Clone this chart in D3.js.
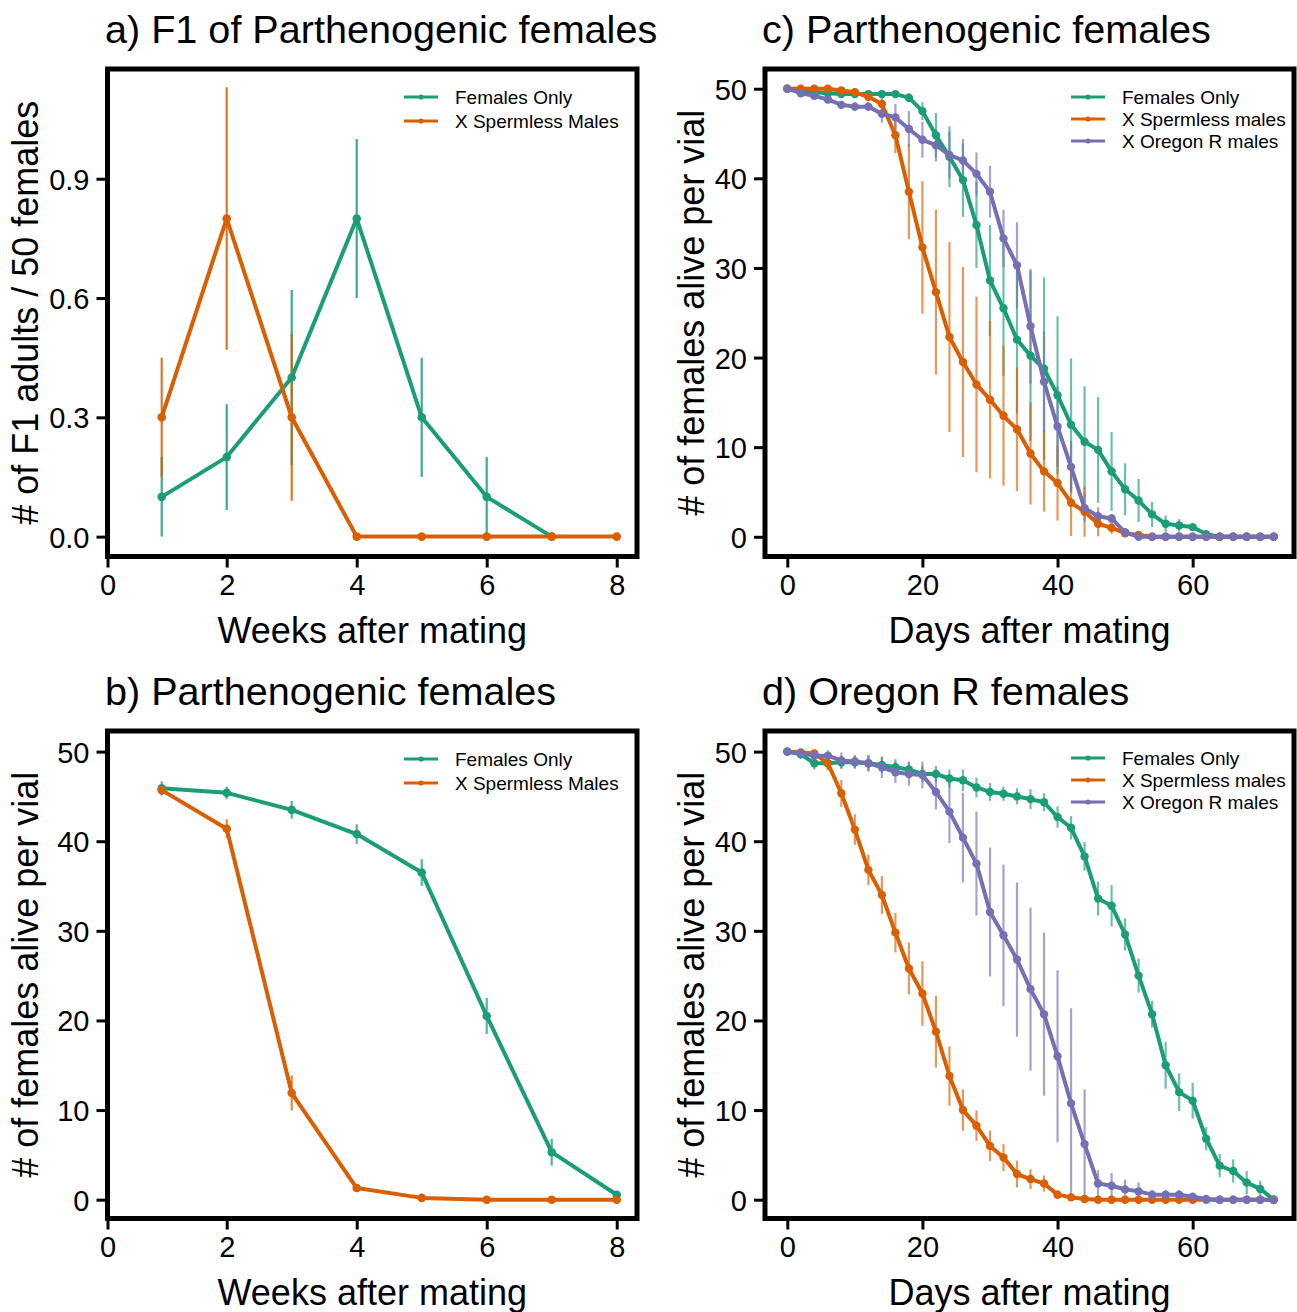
<!DOCTYPE html>
<html>
<head>
<meta charset="utf-8">
<script src="https://cdn.jsdelivr.net/npm/d3@7"></script>
<style>
  html, body { margin: 0; padding: 0; background: #ffffff; }
  svg { display: block; }
  text { font-family: "Liberation Sans", Arial, Helvetica, sans-serif; fill: #000; }
</style>
</head>
<body>
<svg id="chart" width="1297" height="1312"></svg>
<script>
// ---------------- DATA ----------------
// Panel a) F1 of Parthenogenic females (weeks)
const weeksFemalesOnlyA = [1, 2, 3, 4, 5, 6, 7];
const femalesOnlyF1 = [0.1, 0.2, 0.4, 0.8, 0.3, 0.1, 0.0];
const femalesOnlyF1Err = [0.1, 0.133, 0.22, 0.2, 0.15, 0.1, 0.0];
const weeksSpermlessA = [1, 2, 3, 4, 5, 6, 7, 8];
const spermlessF1 = [0.3, 0.8, 0.3, 0.0, 0.0, 0.0, 0.0, 0.0];
const spermlessF1Err = [0.15, 0.33, 0.21, 0, 0, 0, 0, 0];

// Panel b) Parthenogenic females survival (weeks)
const weeksB = [1, 2, 3, 4, 5, 6, 7, 8];
const femalesOnlySurvB = [45.9, 45.4, 43.5, 40.8, 36.5, 20.5, 5.3, 0.55];
const femalesOnlySurvBErr = [0.8, 0.7, 1.0, 1.1, 1.5, 2.0, 1.5, 0.3];
const spermlessSurvB = [45.7, 41.4, 11.9, 1.3, 0.2, 0.0, 0.0, 0.0];
const spermlessSurvBErr = [0.5, 1.05, 1.95, 0, 0, 0, 0, 0];

// Days (panels c and d)
const days = [0,2,4,6,8,10,12,14,16,18,20,22,24,26,28,30,32,34,36,38,40,42,44,46,48,50,52,54,56,58,60,62,64,66,68,70,72];

// Panel c) Parthenogenic females
const femalesOnlyC = [50,49.7,49.6,49.5,49.4,49.4,49.4,49.4,49.4,49.0,47.5,44.8,42.4,39.8,34.8,28.6,25.5,22.0,20.2,18.75,15.8,12.5,10.6,9.7,7.3,5.3,4.05,2.5,1.45,1.26,1.08,0.3,0,0,0,0,0];
const femalesOnlyCErr = [0.2,0.3,0.3,0.3,0.3,0.3,0.3,0.3,0.3,0.5,1.0,2.5,3.4,4.1,4.8,6.2,7.5,8.2,9.5,10.2,8.8,7.4,6.2,5.9,4.4,2.9,2.4,1.4,0.9,0.7,0.3,0.2,0,0,0,0,0];
const spermlessC = [50,50,50,50,49.8,49.6,49.1,48.3,44.8,38.5,32.3,27.3,22.3,19.5,17.0,15.3,13.5,12.0,9.3,7.3,6.0,3.8,2.8,1.45,1.0,0.4,0.2,0,0,0,0,0,0,0,0,0,0];
const spermlessCErr = [0,0.2,0.2,0.2,0.2,0.2,0.5,0.8,2.0,5.3,7.4,9.2,10.6,10.6,9.8,8.8,7.8,6.9,5.7,4.5,4.2,3.7,2.8,1.4,0.7,0.3,0,0,0,0,0,0,0,0,0,0,0];
const oregonC = [50,49.5,49.2,48.8,48.2,48.0,48.0,47.2,46.8,45.5,44.3,43.7,42.6,42.0,40.5,38.5,33.3,30.3,23.5,17.3,12.3,7.8,3.2,2.3,2.05,0.5,0,0,0,0,0,0,0,0,0,0,0];
const oregonCErr = [0,0.3,0.4,0.4,0.45,0.5,0.5,1.0,1.5,2.0,2.0,1.8,2.6,2.4,2.4,2.9,3.2,4.8,6.4,5.6,4.5,2.9,1.5,1.0,0.5,0,0,0,0,0,0,0,0,0,0,0,0];

// Panel d) Oregon R females
const femalesOnlyD = [50,49.7,48.7,48.7,48.8,48.8,48.7,48.5,48.25,48.0,47.5,47.5,47.0,46.8,46.0,45.5,45.3,45.0,44.7,44.35,42.7,41.5,38.3,33.6,32.8,29.6,25.0,20.7,15.0,12.0,11.05,6.8,3.8,3.2,1.9,1.2,0];
const femalesOnlyDErr = [0.2,0.5,0.7,0.7,0.7,0.7,0.9,0.9,0.9,0.9,0.9,0.9,1.0,1.2,1.1,1.0,0.8,0.9,1.1,1.0,1.2,1.3,1.6,1.9,2.3,1.8,1.9,1.5,2.6,2.1,2.0,1.3,1.3,1.3,1.3,0.9,0];
const spermlessD = [50,49.9,49.8,48.7,45.35,41.3,36.8,34.0,29.8,25.8,23.0,18.75,13.8,10.0,8.26,6.0,4.7,2.86,2.3,1.8,0.56,0.26,0.07,0,0,0,0,0,0,0,0,0,0,0,0,0,0];
const spermlessDErr = [0,0.2,0.3,0.8,1.5,1.7,1.7,2.1,2.2,2.9,3.6,4.0,3.3,2.3,1.7,1.7,1.5,1.5,1.1,0.9,0.5,0.3,0,0,0,0,0,0,0,0,0,0,0,0,0,0,0];
const oregonD = [50,49.8,49.55,49.55,49.0,48.9,48.7,48.25,47.7,47.5,47.4,45.5,43.3,40.4,37.5,32.1,29.5,26.8,23.5,20.7,16.0,10.75,6.2,1.8,1.56,1.15,0.93,0.56,0.56,0.56,0.33,0.07,0,0,0,0,0];
const oregonDErr = [0.2,0.4,0.5,0.6,0.9,0.75,0.9,1.2,1.2,1.3,1.5,1.95,3.5,5.0,5.8,7.2,7.9,8.6,9.1,9.1,9.6,10.6,6.1,1.5,1.4,1.1,1.0,0.5,0.5,0.5,0.3,0,0,0,0,0,0];

// Tick labels
const weekTicks = [0, 2, 4, 6, 8];
const f1Ticks = [0.0, 0.3, 0.6, 0.9];
const survTicks = [0, 10, 20, 30, 40, 50];
const dayTicks = [0, 20, 40, 60];

// Colours (Dark2)
const cFemales = "#1b9e77", cSpermless = "#d95f02", cOregon = "#7570b3";

// ---------------- DRAWING ----------------
const svg = d3.select("#chart");

function zip(xs, ys, es) { return xs.map((x, i) => ({x: x, y: ys[i], e: es[i]})); }

function drawPanel(p) {
  const g = svg.append("g");
  const x = d3.scaleLinear().domain(p.xDomain).range([p.left, p.right]).clamp(true);
  const y = d3.scaleLinear().domain(p.yDomain).range([p.bottom, p.top]);

  // title
  g.append("text").attr("x", p.titleX).attr("y", p.titleY)
    .attr("font-size", 39.6).text(p.title);

  // error bars (under lines)
  p.series.forEach(s => {
    g.append("g").selectAll("line").data(s.data.filter(d => d.e > 0)).join("line")
      .attr("x1", d => x(d.x)).attr("x2", d => x(d.x))
      .attr("y1", d => y(d.y - d.e)).attr("y2", d => y(d.y + d.e))
      .attr("stroke", s.color).attr("stroke-width", 2.2)
      .attr("stroke-opacity", p.errOpacity);
  });
  // lines + markers
  p.series.forEach(s => {
    g.append("path").datum(s.data)
      .attr("d", d3.line().x(d => x(d.x)).y(d => y(d.y)))
      .attr("fill", "none").attr("stroke", s.color).attr("stroke-width", 4)
      .attr("stroke-linejoin", "round");
    g.append("g").selectAll("circle").data(s.data).join("circle")
      .attr("cx", d => x(d.x)).attr("cy", d => y(d.y)).attr("r", p.markerR)
      .attr("fill", s.color);
  });

  // frame
  g.append("rect").attr("x", p.left).attr("y", p.top)
    .attr("width", p.right - p.left).attr("height", p.bottom - p.top)
    .attr("fill", "none").attr("stroke", "#000").attr("stroke-width", 5);

  // x axis
  const xAxis = d3.axisBottom(x).tickValues(p.xTicks).tickSize(10).tickPadding(6)
    .tickFormat(d3.format("d"));
  const xa = g.append("g").attr("transform", `translate(0,${p.bottom + 1})`).call(xAxis);
  xa.select(".domain").remove();
  xa.selectAll(".tick line").attr("stroke", "#000").attr("stroke-width", 3);
  xa.selectAll(".tick text").attr("font-size", 29).attr("font-family", null)
    .attr("y", null).attr("dy", null).attr("transform", `translate(0,${p.xTickBaseline - p.bottom - 1})`);

  // y axis
  const yAxis = d3.axisLeft(y).tickValues(p.yTicks).tickSize(10).tickPadding(7)
    .tickFormat(p.yFormat);
  const ya = g.append("g").attr("transform", `translate(${p.left - 1},0)`).call(yAxis);
  ya.select(".domain").remove();
  ya.selectAll(".tick line").attr("stroke", "#000").attr("stroke-width", 3);
  ya.selectAll(".tick text").attr("font-size", 29).attr("font-family", null).attr("dy", "0.36em");
  g.selectAll(".tick text").attr("fill", "#000");

  // axis titles
  g.append("text").attr("x", (p.left + p.right) / 2).attr("y", p.xLabelY)
    .attr("text-anchor", "middle").attr("font-size", 36).text(p.xLabel);
  g.append("text")
    .attr("transform", `translate(${p.yLabelX},${(p.top + p.bottom) / 2}) rotate(-90)`)
    .attr("text-anchor", "middle").attr("font-size", 36).text(p.yLabel);

  // legend
  p.series.forEach((s, i) => {
    const ly = p.legendY + i * p.legendStep;
    g.append("line").attr("x1", p.legendX).attr("x2", p.legendX + 34)
      .attr("y1", ly).attr("y2", ly).attr("stroke", s.color).attr("stroke-width", 3);
    g.append("circle").attr("cx", p.legendX + 17).attr("cy", ly).attr("r", 2.6).attr("fill", s.color);
    g.append("text").attr("x", p.legendX + 51).attr("y", ly + 6.8)
      .attr("font-size", 19).text(s.name);
  });
}

const fmt1 = d3.format(".1f"), fmt0 = d3.format("d");

// Panel a
drawPanel({
  title: "a) F1 of Parthenogenic females", titleX: 105, titleY: 43,
  left: 107.5, right: 637, top: 69, bottom: 556.5,
  xDomain: [0.166, 8.312], yDomain: [-0.05, 1.176],
  xTicks: weekTicks, yTicks: f1Ticks, yFormat: fmt1,
  xTickBaseline: 595, xLabel: "Weeks after mating", xLabelY: 643,
  yLabel: "# of F1 adults / 50 females", yLabelX: 38,
  markerR: 4.3, errOpacity: 0.85,
  legendX: 404, legendY: 97, legendStep: 24,
  series: [
    {name: "Females Only", color: cFemales, data: zip(weeksFemalesOnlyA, femalesOnlyF1, femalesOnlyF1Err)},
    {name: "X Spermless Males", color: cSpermless, data: zip(weeksSpermlessA, spermlessF1, spermlessF1Err)}
  ]
});

// Panel b
drawPanel({
  title: "b) Parthenogenic females", titleX: 105, titleY: 705,
  left: 107.5, right: 637, top: 731, bottom: 1218.5,
  xDomain: [0.166, 8.312], yDomain: [-2.1, 52.3],
  xTicks: weekTicks, yTicks: survTicks, yFormat: fmt0,
  xTickBaseline: 1257, xLabel: "Weeks after mating", xLabelY: 1305,
  yLabel: "# of females alive per vial", yLabelX: 38,
  markerR: 4.3, errOpacity: 0.75,
  legendX: 404, legendY: 759, legendStep: 24,
  series: [
    {name: "Females Only", color: cFemales, data: zip(weeksB, femalesOnlySurvB, femalesOnlySurvBErr)},
    {name: "X Spermless Males", color: cSpermless, data: zip(weeksB, spermlessSurvB, spermlessSurvBErr)}
  ]
});

// Panel c
drawPanel({
  title: "c) Parthenogenic females", titleX: 762, titleY: 43,
  left: 765, right: 1294, top: 69, bottom: 556.5,
  xDomain: [-3.3, 75.0], yDomain: [-2.2, 52.2],
  xTicks: dayTicks, yTicks: survTicks, yFormat: fmt0,
  xTickBaseline: 595, xLabel: "Days after mating", xLabelY: 643,
  yLabel: "# of females alive per vial", yLabelX: 704,
  markerR: 4.2, errOpacity: 0.65,
  legendX: 1071, legendY: 97, legendStep: 22,
  series: [
    {name: "Females Only", color: cFemales, data: zip(days, femalesOnlyC, femalesOnlyCErr)},
    {name: "X Spermless males", color: cSpermless, data: zip(days, spermlessC, spermlessCErr)},
    {name: "X Oregon R males", color: cOregon, data: zip(days, oregonC, oregonCErr)}
  ]
});

// Panel d
drawPanel({
  title: "d) Oregon R females", titleX: 762, titleY: 705,
  left: 765, right: 1294, top: 731, bottom: 1218.5,
  xDomain: [-3.3, 75.0], yDomain: [-2.1, 52.3],
  xTicks: dayTicks, yTicks: survTicks, yFormat: fmt0,
  xTickBaseline: 1257, xLabel: "Days after mating", xLabelY: 1305,
  yLabel: "# of females alive per vial", yLabelX: 704,
  markerR: 4.2, errOpacity: 0.65,
  legendX: 1071, legendY: 758, legendStep: 22,
  series: [
    {name: "Females Only", color: cFemales, data: zip(days, femalesOnlyD, femalesOnlyDErr)},
    {name: "X Spermless males", color: cSpermless, data: zip(days, spermlessD, spermlessDErr)},
    {name: "X Oregon R males", color: cOregon, data: zip(days, oregonD, oregonDErr)}
  ]
});
</script>
</body>
</html>
